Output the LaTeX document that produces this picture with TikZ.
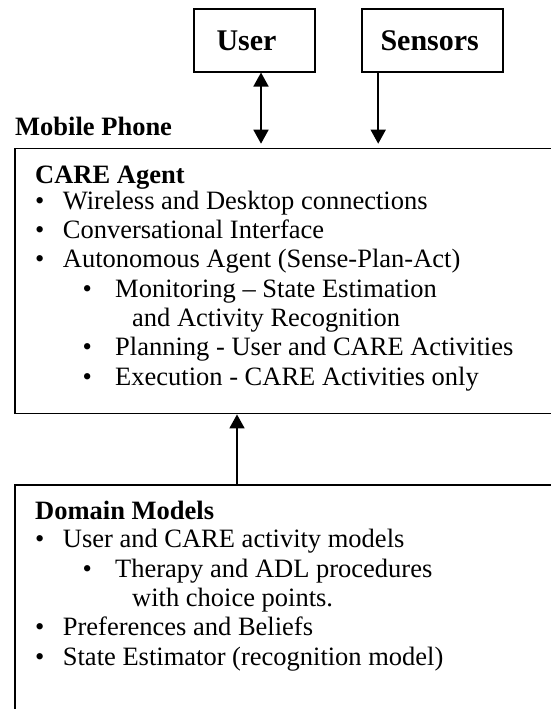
\documentclass[tikz,border=0pt]{standalone}
\usepackage{fontspec}
\setmainfont{Liberation Serif}
\usetikzlibrary{arrows.meta,positioning}
% bullet lines: first level, second level, and a run-on line
\newcommand\itemA[1]{\makebox[27.7pt][l]{\textbullet}#1}
\newcommand\itemB[1]{\hspace*{47.4pt}\makebox[32.6pt][l]{\textbullet}#1}
\newcommand\itemC[1]{\hspace*{97pt}#1}

\begin{document}
\begin{tikzpicture}[>={Triangle[length=14pt,width=15pt]},x=1pt,y=-1pt,
	box/.style={draw,line width=1.7pt,inner sep=0pt},
	title/.style={font=\fontsize{30}{32}\selectfont\bfseries},
	body/.style={font=\fontsize{26.5}{29.3}\selectfont,align=left,inner sep=0pt,anchor=base west},
	link/.style={line width=1.7pt}]
	\useasboundingbox (0,0) rectangle (551,709);
	\clip (0,0) rectangle (551,709);
	% inputs (labels sit a little left of centre)
	\node[box,title,minimum width=121pt,minimum height=62.4pt] (user) at (254.5,40.5) {User\kern16pt};
	\node[box,title,minimum width=141pt,minimum height=62.4pt] (sensors) at (432.2,40.5) {Sensors\kern5pt};
	% phone with the agent (base = last line)
	\node[body,font=\fontsize{26.5}{29.3}\selectfont\bfseries] (phone) at (15,135) {Mobile Phone};
	\node[box,anchor=north west,minimum width=600pt,minimum height=265pt] (agent) at (14,147.7) {};
	\node[body] (agenttext) at (35,385) {\textbf{CARE Agent}\\[-3.3pt]
		\itemA{Wireless and Desktop connections}\\
		\itemA{Conversational Interface}\\
		\itemA{Autonomous Agent (Sense-Plan-Act)}\\
		\itemB{Monitoring – State Estimation}\\
		\itemC{and Activity Recognition}\\
		\itemB{Planning - User and CARE Activities}\\
		\itemB{Execution - CARE Activities only}};
	% models below
	\node[box,anchor=north west,minimum width=600pt,minimum height=260pt] (domain) at (14,484) {};
	\node[body] (domaintext) at (35,665) {\textbf{Domain Models}\\[-1.3pt]
		\itemA{User and CARE activity models}\\
		\itemB{Therapy and ADL procedures}\\
		\itemC{with choice points.}\\
		\itemA{Preferences and Beliefs}\\
		\itemA{State Estimator (recognition model)}};
	% connectors
	\draw[link,<->] ([xshift=6.5pt]user.south) -- ([xshift=6.5pt]user.south |- agent.north) [shorten >=4pt];
	\draw[link,->] ([xshift=-54pt]sensors.south) -- ([xshift=-54pt]sensors.south |- agent.north) [shorten >=4pt];
	\draw[link,->] ([xshift=223pt]domain.north west) -- ([xshift=223pt]domain.north west |- agent.south);
\end{tikzpicture}
\end{document}
